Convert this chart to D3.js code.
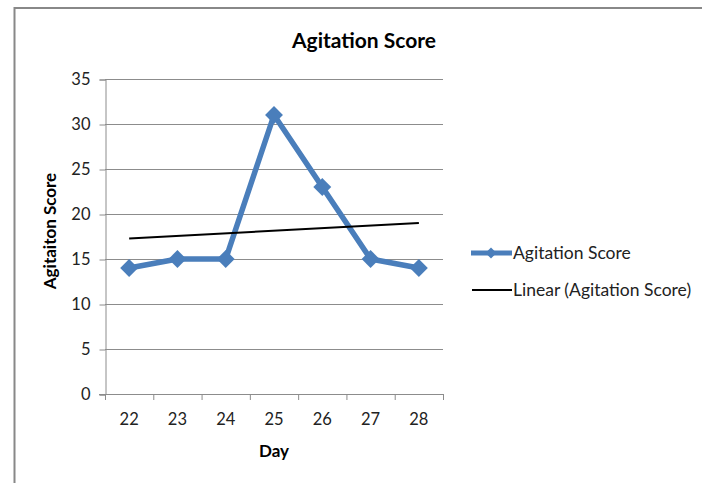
<!DOCTYPE html>
<html>
<head>
<meta charset="utf-8">
<script src="https://cdn.jsdelivr.net/npm/d3@7"></script>
<style>
    body { margin: 0; background: #fff; }
    text { font-family: Lato, "Open Sans", sans-serif; }
</style>
</head>
<body>
<div id="svgcontainer"></div>
<script>
var days = [22, 23, 24, 25, 26, 27, 28];
var scores = [14, 15, 15, 31, 23, 15, 14];
var yTicks = [0, 5, 10, 15, 20, 25, 30, 35];

var width = 702;
var height = 483;
var BLUE = "#4a7ebb";

var svg = d3.select("#svgcontainer")
    .append("svg").attr("width", width).attr("height", height);

// frame
svg.append("rect")
    .attr("x", 14.5).attr("y", 8)
    .attr("width", width).attr("height", height)
    .attr("fill", "#fff")
    .attr("stroke", "#888")
    .attr("stroke-width", 2);

var x = d3.scaleBand().domain(days).range([105, 443]);
var y = d3.scaleLinear().domain([0, 35]).range([394, 79]);

// gridlines
svg.append("g").selectAll("line")
    .data(yTicks.slice(1))
    .enter().append("line")
    .attr("x1", 105).attr("x2", 443)
    .attr("y1", function (d) { return y(d) + 0.5; })
    .attr("y2", function (d) { return y(d) + 0.5; })
    .attr("stroke", "#8c8c8c");

// y axis
var yAxis = svg.append("g")
    .attr("transform", "translate(105.5,0.5)")
    .call(d3.axisLeft(y).tickValues(yTicks).tickSize(6).tickPadding(9));
yAxis.select(".domain").attr("stroke", "#8c8c8c");
yAxis.selectAll(".tick line").attr("stroke", "#8c8c8c");
yAxis.selectAll("text").attr("font-size", 16.5).attr("fill", "#222");

// x axis
var xAxis = svg.append("g")
    .attr("transform", "translate(0,394.5)")
    .call(d3.axisBottom(x).tickSize(0).tickPadding(19));
xAxis.select(".domain").attr("stroke", "#8c8c8c").attr("d", "M99,0H443");
xAxis.selectAll("text").attr("font-size", 16.5).attr("fill", "#222");

// category boundary ticks
svg.append("g").selectAll("line")
    .data(days.concat(["end"]))
    .enter().append("line")
    .attr("x1", function (d, i) { return 105.5 + i * x.step(); })
    .attr("x2", function (d, i) { return 105.5 + i * x.step(); })
    .attr("y1", 394).attr("y2", 400)
    .attr("stroke", "#8c8c8c");

// axis titles
svg.append("text")
    .attr("x", 364).attr("y", 48)
    .attr("text-anchor", "middle")
    .attr("font-size", 21).attr("font-weight", "bold")
    .text("Agitation Score");

svg.append("text")
    .attr("x", 274).attr("y", 457)
    .attr("text-anchor", "middle")
    .attr("font-size", 17).attr("font-weight", "bold")
    .text("Day");

svg.append("text")
    .attr("transform", "translate(56,231) rotate(-90)")
    .attr("text-anchor", "middle")
    .attr("font-size", 17).attr("font-weight", "bold")
    .text("Agitaiton Score");

function cx(d) { return x(d) + x.bandwidth() / 2; }

// data line
var line = d3.line()
    .x(function (d, i) { return cx(days[i]); })
    .y(function (d) { return y(d); });

svg.append("path")
    .datum(scores)
    .attr("d", line)
    .attr("fill", "none")
    .attr("stroke", BLUE)
    .attr("stroke-width", 5.5)
    .attr("stroke-linejoin", "round");

var diamond = d3.symbol().type(d3.symbolSquare).size(160);
svg.append("g").selectAll("path")
    .data(scores)
    .enter().append("path")
    .attr("d", diamond)
    .attr("transform", function (d, i) { return "translate(" + cx(days[i]) + "," + y(d) + ") rotate(45)"; })
    .attr("fill", BLUE);

// linear trend line (least squares over day index)
var n = scores.length;
var mx = d3.mean(days), my = d3.mean(scores);
var slope = d3.sum(days, function (d, i) { return (d - mx) * (scores[i] - my); }) /
    d3.sum(days, function (d) { return (d - mx) * (d - mx); });
var trendEnds = [days[0], days[n - 1]];
svg.append("line")
    .attr("x1", cx(trendEnds[0])).attr("y1", y(my + slope * (trendEnds[0] - mx)))
    .attr("x2", cx(trendEnds[1])).attr("y2", y(my + slope * (trendEnds[1] - mx)))
    .attr("stroke", "#000")
    .attr("stroke-width", 2);

// legend
var legend = svg.append("g");
legend.append("line")
    .attr("x1", 471).attr("x2", 512).attr("y1", 253).attr("y2", 253)
    .attr("stroke", BLUE).attr("stroke-width", 5);
legend.append("path")
    .attr("d", d3.symbol().type(d3.symbolSquare).size(60))
    .attr("transform", "translate(491,253) rotate(45)")
    .attr("fill", BLUE);
legend.append("text")
    .attr("x", 513).attr("y", 259)
    .attr("font-size", 17.5).attr("fill", "#222")
    .text("Agitation Score");

legend.append("line")
    .attr("x1", 472).attr("x2", 512).attr("y1", 290).attr("y2", 290)
    .attr("stroke", "#000").attr("stroke-width", 2);
legend.append("text")
    .attr("x", 513).attr("y", 296)
    .attr("font-size", 17.5).attr("fill", "#222")
    .text("Linear (Agitation Score)");
</script>
</body>
</html>
